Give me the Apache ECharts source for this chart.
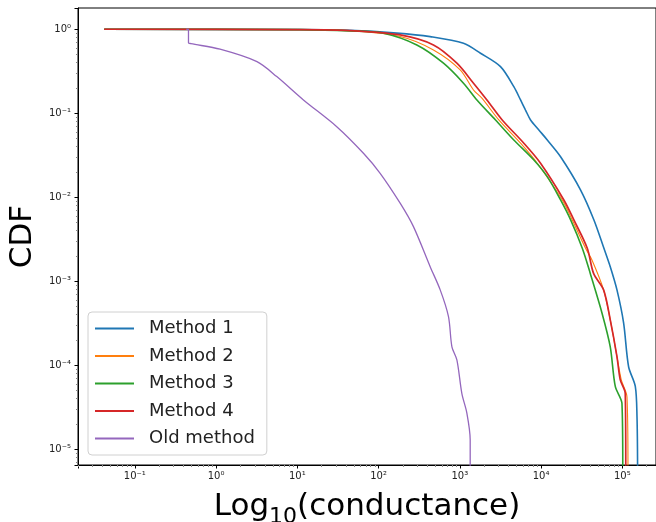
<!DOCTYPE html>
<html>
<head>
<meta charset="utf-8">
<script src="https://cdn.jsdelivr.net/npm/echarts@6/dist/echarts.min.js"></script>
<style>
  html, body { margin: 0; padding: 0; background: #fff; }
  #chart { width: 656px; height: 522px; }
</style>
</head>
<body>
<div id="chart"></div>
<script>
// ---- data ----
const seriesNames = ['Method 1', 'Method 2', 'Method 3', 'Method 4', 'Old method'];
const seriesColors = ['#1f77b4', '#ff7f0e', '#2ca02c', '#d62728', '#9467bd'];

const method1 = [[0.042,1],[10.8,0.99],[44.7,0.97],[168,0.9],[432,0.816],[1111,0.681],[1799,0.518],[3170,0.359],[4624,0.207],[5596,0.144],[6446,0.109],[7430,0.0832],[9400,0.0633],[11940,0.0481],[17400,0.0304],[30700,0.0122],[44770,0.00537],[59430,0.00247],[71120,0.00149],[86000,7.9e-4],[103800,3.2e-4],[119600,9.6e-5],[144600,5.6e-5],[151800,2.4e-5],[154300,6e-6]];
const method2 = [[0.042,1],[10.8,0.99],[44.7,0.96],[184.5,0.82],[474,0.567],[1011,0.328],[1475,0.189],[1872,0.151],[3023,0.0832],[5596,0.044],[8983,0.0254],[18250,0.00929],[24230,0.00537],[35320,0.00247],[42340,0.00179],[58880,7.9e-4],[71120,3.47e-4],[86000,1.27e-4],[97200,6.7e-5],[114300,4.2e-5],[117500,6e-6]];
const method3 = [[0.042,1],[10.8,0.99],[44.7,0.955],[115,0.896],[296,0.65],[630,0.394],[1111,0.228],[1625,0.144],[2754,0.0832],[4624,0.0481],[8160,0.0278],[11940,0.0176],[17400,0.00929],[23140,0.00537],[32190,0.00247],[40360,0.00124],[56230,4.2e-4],[71120,1.66e-4],[82000,5.6e-5],[99100,3.5e-5],[101400,6e-6]];
const method4 = [[0.042,1],[10.8,0.99],[44.7,0.965],[184.5,0.855],[474,0.65],[921,0.394],[1475,0.228],[2158,0.144],[3327,0.0832],[6143,0.044],[9863,0.0254],[19100,0.00929],[25360,0.00537],[37070,0.00247],[44330,0.00124],[58880,7.9e-4],[71120,3.47e-4],[86000,1.27e-4],[94440,6.7e-5],[108800,4.6e-5],[110400,6e-6]];
const oldMethod = [[0.43,1],[0.458,1],[0.458,0.69],[0.49,0.675],[1.12,0.578],[3.19,0.411],[5.59,0.273],[11.9,0.144],[30.6,0.0692],[65.2,0.0334],[104.7,0.0193],[184.5,0.0085],[269,0.00447],[432,0.00149],[574,7.9e-4],[726,3.8e-4],[800,1.66e-4],[921,1.16e-4],[1061,4.6e-5],[1222,2.7e-5],[1343,1.3e-5],[1343,6e-6]];
const seriesData = [method1, method2, method3, method4, oldMethod];
const seriesWidths = [1.6, 1.1, 1.6, 1.7, 1.3];

const xMin = 0.02, xMax = 2.6e5;
const yMin = 6.5e-6, yMax = 1.79;

// ---- formatting ----
const SUP = {'0':'⁰','1':'¹','2':'²','3':'³','4':'⁴','5':'⁵','6':'⁶','7':'⁷','8':'⁸','9':'⁹','-':'⁻'};
function powLabel(v) {
  const l = Math.log10(v);
  const e = Math.round(l);
  if (Math.abs(l - e) > 1e-6) return '';
  return '10' + String(e).split('').map(c => SUP[c]).join('');
}

const chart = echarts.init(document.getElementById('chart'), null, { renderer: 'canvas' });
const font = 'DejaVu Sans';

chart.setOption({
  animation: false,
  backgroundColor: '#fff',
  textStyle: { fontFamily: font },
  grid: {
    left: 78, right: 0, top: 8, bottom: 57,
    containLabel: false, outerBoundsMode: 'none',
    show: true, borderColor: '#000', borderWidth: 1, backgroundColor: 'transparent'
  },
  xAxis: {
    type: 'log', min: xMin, max: xMax, logBase: 10,
    name: '{a|Log}{b|10}{a|(conductance)}',
    nameLocation: 'middle', nameGap: 12,
    nameTextStyle: {
      rich: {
        a: { fontFamily: font, fontSize: 31, lineHeight: 42, color: '#000' },
        b: { fontFamily: font, fontSize: 22, lineHeight: 22, padding: [20, 0, 0, 0], color: '#000' }
      }
    },
    axisLine: { show: true, lineStyle: { color: '#000', width: 1 } },
    axisTick: { show: true, length: 3.5, lineStyle: { color: '#000' } },
    minorTick: { show: true, splitNumber: 9, length: 2, lineStyle: { color: '#888' } },
    splitLine: { show: false },
    axisLabel: { formatter: powLabel, fontFamily: font, fontSize: 10, color: '#222', margin: 6, showMinLabel: false, showMaxLabel: false }
  },
  yAxis: {
    type: 'log', min: yMin, max: yMax, logBase: 10,
    name: 'CDF', nameLocation: 'middle', nameGap: 32, nameRotate: 90,
    nameTextStyle: { fontFamily: font, fontSize: 31, lineHeight: 31, color: '#000' },
    axisLine: { show: true, lineStyle: { color: '#000', width: 1 } },
    axisTick: { show: true, length: 3.5, lineStyle: { color: '#000' } },
    minorTick: { show: true, splitNumber: 9, length: 2, lineStyle: { color: '#888' } },
    splitLine: { show: false },
    axisLabel: { formatter: powLabel, fontFamily: font, fontSize: 10, color: '#222', margin: 7, showMinLabel: false, showMaxLabel: false }
  },
  legend: {
    orient: 'vertical', left: 88, top: 312,
    data: seriesNames,
    icon: 'rect',
    itemWidth: 39, itemHeight: 2, itemGap: 7.5,
    padding: [6.5, 12, 6.5, 7],
    backgroundColor: 'rgba(255,255,255,0.85)',
    borderColor: '#d0d0d0', borderWidth: 1, borderRadius: 4,
    textStyle: { fontFamily: font, fontSize: 18, lineHeight: 20, color: '#222', padding: [0, 0, 0, 10] }
  },
  series: seriesNames.map((name, i) => ({
    name: name,
    type: 'line',
    data: seriesData[i],
    symbol: 'none',
    showSymbol: false,
    smooth: 0.3,
    smoothMonotone: 'none',
    clip: true,
    color: seriesColors[i],
    itemStyle: { color: seriesColors[i] },
    lineStyle: { color: seriesColors[i], width: seriesWidths[i] },
    z: 2 + i
  }))
});
</script>
</body>
</html>
